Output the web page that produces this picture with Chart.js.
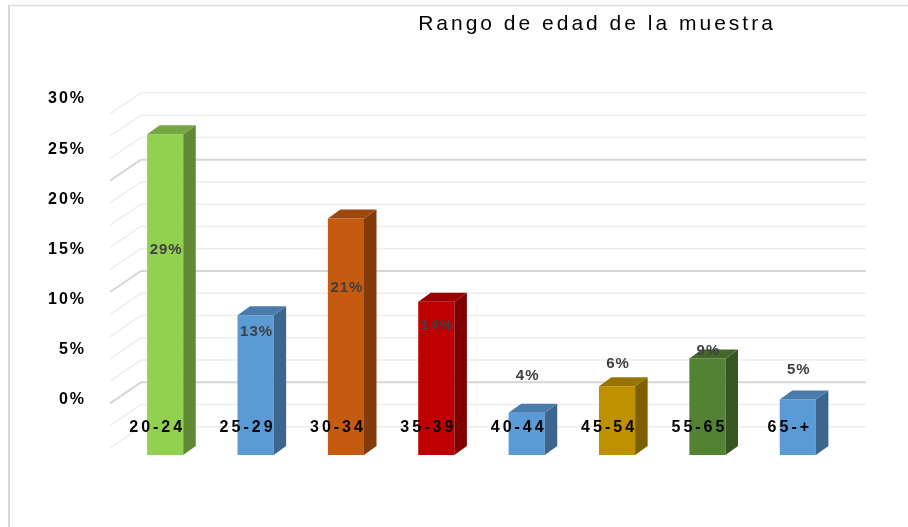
<!DOCTYPE html>
<html><head><meta charset="utf-8">
<script src="https://cdn.jsdelivr.net/npm/chart.js@4.4.1/dist/chart.umd.min.js"></script>
<style>html,body{margin:0;padding:0;background:#fff;overflow:hidden}#wrap{width:908px;height:527px}</style>
</head><body><div id="wrap"><canvas id="c" width="908" height="527"></canvas></div>
<script>
const chartTitle = 'Rango de edad de la muestra';
const categories = ['20-24', '25-29', '30-34', '35-39', '40-44', '45-54', '55-65', '65-+'];
const values = [28.9, 12.6, 21.3, 13.8, 3.8, 6.2, 8.7, 5.0];
const valueLabels = ['29%', '13%', '21%', '14%', '4%', '6%', '9%', '5%'];
const barColors = ['#92d050', '#5b9bd5', '#c55a11', '#c00000', '#5b9bd5', '#bf9000', '#548235', '#5b9bd5'];

function shade(hex, f) {
  const n = parseInt(hex.slice(1), 16);
  const r = Math.round(((n >> 16) & 255) * f), g = Math.round(((n >> 8) & 255) * f), b = Math.round((n & 255) * f);
  return 'rgb(' + r + ',' + g + ',' + b + ')';
}

const FONT = '"Liberation Sans", Arial, sans-serif';
const DX = 12.5, DY = 9;       // bar depth
const WDX = 31, WDY = 21;      // wall depth

const scene = {
  id: 'scene',
  beforeDraw(chart) {
    const ctx = chart.ctx;
    ctx.save();
    ctx.strokeStyle = '#d9d9d9';
    ctx.lineWidth = 2;
    ctx.beginPath(); ctx.moveTo(9, 5); ctx.lineTo(9, 527); ctx.stroke();
    ctx.lineWidth = 1.5;
    ctx.beginPath(); ctx.moveTo(8, 5.5); ctx.lineTo(908, 5.5); ctx.stroke();
    ctx.letterSpacing = '3px';
    ctx.font = '21px ' + FONT;
    ctx.fillStyle = '#000';
    ctx.textAlign = 'center';
    ctx.textBaseline = 'middle';
    ctx.fillText(chartTitle, 597, 24);
    ctx.restore();
    ctx.letterSpacing = '2px';
  },
  beforeDatasetsDraw(chart) {
    const ctx = chart.ctx, a = chart.chartArea, ys = chart.scales.yWall;
    const wl = a.left + 21, wr = a.right + 23;
    ctx.save();
    ctx.letterSpacing = '0px';
    ys.ticks.filter(t => t.value >= 0).forEach(t => {
      const y = ys.getPixelForValue(t.value);
      const major = t.value % 5 === 0;
      ctx.strokeStyle = major ? '#d6d6d6' : '#ededed';
      ctx.lineWidth = major ? 2 : 1.5;
      ctx.beginPath();
      ctx.moveTo(wr, y); ctx.lineTo(wl, y); ctx.lineTo(wl - WDX, y + WDY);
      ctx.stroke();
    });
    ctx.restore();
  },
  afterDatasetsDraw(chart) {
    const ctx = chart.ctx, yl = chart.scales.yLab;
    const meta = chart.getDatasetMeta(0);
    ctx.save();
    meta.data.forEach((bar, i) => {
      const p = bar.getProps(['x', 'y', 'base', 'width'], true);
      const l = p.x - p.width / 2, r = p.x + p.width / 2;
      const c = barColors[i];
      ctx.fillStyle = shade(c, 0.66);
      ctx.beginPath();
      ctx.moveTo(r, p.y); ctx.lineTo(r + DX, p.y - DY); ctx.lineTo(r + DX, p.base - DY); ctx.lineTo(r, p.base);
      ctx.closePath(); ctx.fill();
      ctx.fillStyle = shade(c, 0.8);
      ctx.beginPath();
      ctx.moveTo(l, p.y); ctx.lineTo(l + DX, p.y - DY); ctx.lineTo(r + DX, p.y - DY); ctx.lineTo(r, p.y);
      ctx.closePath(); ctx.fill();
    });
    ctx.letterSpacing = '1px';
    ctx.font = 'bold 15px ' + FONT;
    ctx.fillStyle = '#404040';
    ctx.textAlign = 'center';
    ctx.textBaseline = 'middle';
    meta.data.forEach((bar, i) => {
      ctx.fillText(valueLabels[i], bar.x + 1, yl.getPixelForValue(values[i] / 2) - 5);
    });
    ctx.restore();
    ctx.letterSpacing = '3px';
  },
  afterDraw(chart) { chart.ctx.letterSpacing = '0px'; }
};

new Chart(document.getElementById('c'), {
  type: 'bar',
  data: {
    labels: categories,
    datasets: [{
      data: values,
      backgroundColor: barColors,
      borderWidth: 0,
      yAxisID: 'y',
      categoryPercentage: 1,
      barPercentage: 0.4
    }]
  },
  options: {
    responsive: false,
    animation: false,
    devicePixelRatio: 1,
    layout: { padding: { top: 90, right: 65, bottom: 72, left: 0 } },
    plugins: { legend: { display: false }, title: { display: false }, tooltip: { enabled: false } },
    scales: {
      x: {
        z: 1,
        grid: { display: false, drawTicks: false },
        border: { display: false },
        ticks: { z: 1, mirror: true, color: '#000', font: { family: FONT, size: 16, weight: 'bold' }, padding: 18, labelOffset: -8, maxRotation: 0, autoSkip: false },
        afterFit(s) { s.height = 0; }
      },
      y: { display: false, min: 0, max: 32.88 },
      yWall: { display: false, min: -1.527, max: 31.257, ticks: { stepSize: 1, includeBounds: false } },
      yLab: {
        position: 'left',
        min: -5.482, max: 30.897,
        grid: { display: false, drawTicks: false },
        border: { display: false },
        ticks: {
          stepSize: 5, includeBounds: false, padding: 34, color: '#000',
          font: { family: FONT, size: 16, weight: 'bold' },
          callback: v => v < 0 ? '' : v + '%'
        },
        afterFit(s) { s.width = 120; }
      }
    }
  },
  plugins: [scene]
});
</script>
</body></html>
